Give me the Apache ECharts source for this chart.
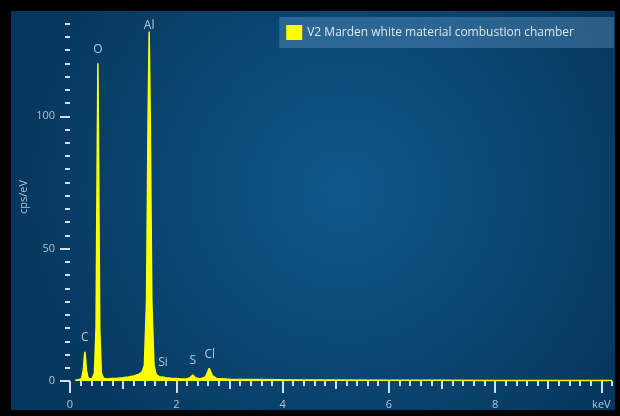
<!DOCTYPE html>
<html>
<head>
<meta charset="utf-8">
<script src="https://cdn.jsdelivr.net/npm/echarts@6/dist/echarts.min.js"></script>
<style>html,body{margin:0;padding:0;background:#000}#c{width:620px;height:416px}</style>
</head>
<body>
<div id="c"></div>
<script>
// Spectrum (energy in keV, intensity in cps/eV)
const energy = [0.10,0.18,0.22,0.25,0.27,0.28,0.29,0.31,0.34,0.38,0.42,0.46,0.49,0.51,0.525,0.54,0.56,0.59,0.63,0.70,0.80,0.90,1.00,1.10,1.20,1.30,1.36,1.40,1.44,1.47,1.49,1.51,1.54,1.58,1.62,1.68,1.74,1.80,1.90,2.00,2.10,2.20,2.26,2.31,2.36,2.45,2.55,2.62,2.68,2.76,3.00,3.50,4.00,5.00,6.00,7.00,8.00,9.00,10.20];
const counts = [0.3,0.6,1.0,4,9,11,9,4,1.2,0.8,1.0,3,20,80,120,80,20,3,1.0,0.8,0.9,1.0,1.2,1.5,1.9,2.6,3.5,6,30,100,132,100,30,6,2.5,1.6,1.5,1.2,1.0,0.9,0.8,0.8,1.2,2.3,1.2,0.8,1.5,4.8,2.0,0.9,0.7,0.6,0.5,0.4,0.3,0.3,0.2,0.2,0.2];
const seriesName = 'V2 Marden white material combustion chamber';
// Element peak labels
const peakNames = ['C','O','Al','Si','S','Cl'];
const peakEnergy = [0.28,0.525,1.49,1.75,2.31,2.63];
const peakHeight = [11,120,132,1.5,2.3,4.8];
// Axis ticks
const xMajorTicks = [0,2,4,6,8,10];
const xMidTicks = [1,3,5,7,9];
const yMajorTicks = [0,50,100];
const yMinorTicks = [5,10,15,20,25,30,35,40,45,55,60,65,70,75,80,85,90,95,105,110,115,120,125,130,135];

const tickColor = '#cfdfed';
const labelColor = '#afc3d5';
const font = 'Open Sans';

const chart = echarts.init(document.getElementById('c'), null, {renderer:'canvas'});
const xCommon = {type:'value', min:0, max:10.2, position:'bottom', offset:2,
  axisLine:{show:false}, splitLine:{show:false}};
const yCommon = {type:'value', min:0, max:139, position:'left', offset:3,
  axisLine:{show:false}, splitLine:{show:false}};

chart.setOption({
  backgroundColor:'#000',
  animation:false,
  graphic:[{type:'rect', z:-10, silent:true, shape:{x:11, y:11, width:604, height:399},
    style:{fill:{type:'radial', x:0.55, y:0.45, r:0.8, colorStops:[{offset:0,color:'#0f588b'},{offset:1,color:'#06385f'}]}}}],
  grid:{left:70, right:8, top:13, bottom:35},
  legend:{data:[seriesName], right:6, top:17, icon:'rect', itemWidth:16, itemHeight:15,
    backgroundColor:'rgba(95,150,195,0.40)', padding:[8,40,8,7],
    textStyle:{color:'#dce7f1', fontSize:12, fontFamily:font}},
  xAxis:[
    Object.assign({}, xCommon, {interval:0.2, axisTick:{length:5, lineStyle:{color:tickColor, width:2}}, axisLabel:{show:false}}),
    Object.assign({}, xCommon, {axisTick:{customValues:xMidTicks, length:8, lineStyle:{color:tickColor, width:2}}, axisLabel:{show:false}}),
    Object.assign({}, xCommon, {axisTick:{customValues:xMajorTicks, length:10, lineStyle:{color:tickColor, width:2}},
      axisLabel:{customValues:xMajorTicks, margin:16, color:labelColor, fontSize:11, fontFamily:font,
        formatter:v => v === 10 ? 'keV' : String(v)}})
  ],
  yAxis:[
    Object.assign({}, yCommon, {axisTick:{customValues:yMinorTicks, length:5, lineStyle:{color:tickColor, width:2}}, axisLabel:{show:false},
      name:'cps/eV', nameLocation:'middle', nameGap:38, nameTextStyle:{color:labelColor, fontSize:11, fontFamily:font}}),
    Object.assign({}, yCommon, {axisTick:{customValues:yMajorTicks, length:10, lineStyle:{color:tickColor, width:2}},
      axisLabel:{customValues:yMajorTicks, margin:12, color:labelColor, fontSize:11, fontFamily:font}})
  ],
  series:[
    {name:seriesName, type:'line', xAxisIndex:0, yAxisIndex:0, showSymbol:false, symbol:'none',
      lineStyle:{color:'#ffff00', width:1.5}, itemStyle:{color:'#ffff00'},
      areaStyle:{color:'#ffff00', opacity:1},
      data:energy.map((e,i)=>[e, counts[i]])},
    {type:'scatter', xAxisIndex:0, yAxisIndex:0, symbolSize:0, silent:true, z:5,
      label:{show:true, position:'top', distance:8, color:'#dde8f1', fontSize:12, fontFamily:font,
        formatter:p => p.name},
      data:peakNames.map((n,i)=>({name:n, value:[peakEnergy[i], peakHeight[i]],
        label: n === 'Al' ? {offset:[0,8]} : undefined}))}
  ]
});
</script>
</body>
</html>
